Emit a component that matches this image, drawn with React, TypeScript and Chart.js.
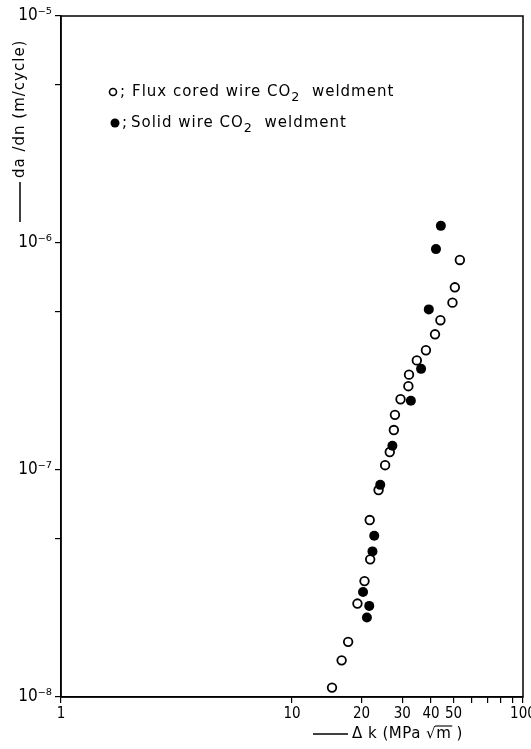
import React, { useEffect, useRef } from "react";
import { Chart, registerables } from "chart.js";

Chart.register(...registerables);

// ΔK (MPa√m) and da/dn (m/cycle)
const fluxDK = [53.3, 50.7, 49.5, 43.9, 41.6, 38.0, 34.7, 32.1, 31.9, 29.5, 27.9, 27.6, 26.5, 25.3, 23.7, 21.7, 21.8, 20.6, 19.2, 17.5, 16.4, 14.9];
const fluxRate = [8.42e-7, 6.38e-7, 5.46e-7, 4.57e-7, 3.96e-7, 3.37e-7, 3.04e-7, 2.63e-7, 2.34e-7, 2.05e-7, 1.75e-7, 1.5e-7, 1.2e-7, 1.05e-7, 8.16e-8, 6.02e-8, 4.04e-8, 3.24e-8, 2.58e-8, 1.75e-8, 1.45e-8, 1.1e-8];
const solidDK = [44.1, 42.0, 39.1, 36.2, 32.7, 27.2, 24.1, 22.7, 22.3, 20.3, 21.6, 21.1];
const solidRate = [1.19e-6, 9.4e-7, 5.1e-7, 2.79e-7, 2.02e-7, 1.28e-7, 8.6e-8, 5.13e-8, 4.38e-8, 2.9e-8, 2.52e-8, 2.24e-8];

const xTickValues = [1, 10, 20, 30, 40, 50, 60, 70, 80, 90, 100];
const xTickLabels = ["1", "10", "20", "30", "40", "50", "", "", "", "", "100"];
const yTickValues = [1e-8, 5e-8, 1e-7, 5e-7, 1e-6, 5e-6, 1e-5];
const yTickLabels = ["10⁻⁸", "", "10⁻⁷", "", "10⁻⁶", "", "10⁻⁵"];

const fluxLabel = ["Flux cored wire CO", "2", "  weldment"];
const solidLabel = ["Solid wire CO", "2", "  weldment"];
const yTitle = "da /dn (m/cycle)";
const xTitle = ["Δ k (MPa √", "m", " )"];

const FONT = "'DejaVu Sans Condensed', 'DejaVu Sans', sans-serif";
const FONT_W = "'DejaVu Sans', sans-serif";

function drawSubText(ctx: any, x: number, y: number, parts: string[], size: number) {
  let cx = x;
  parts.forEach((p, i) => {
    const sub = i % 2 === 1;
    ctx.font = `${sub ? size * 0.85 : size}px ${FONT_W}`;
    ctx.fillText(p, cx, sub ? y + size * 0.35 : y);
    cx += ctx.measureText(p).width;
  });
}

const overlay = {
  id: "overlay",
  afterDraw(chart: any) {
    const { ctx, chartArea: a } = chart;
    ctx.save();
    ctx.strokeStyle = "#000";
    ctx.fillStyle = "#000";
    ctx.lineWidth = 1.5;
    ctx.strokeRect(a.left, a.top, a.right - a.left, a.bottom - a.top);

    // legend
    const lx = a.left + 52;
    const y1 = 92;
    const y2 = 123;
    ctx.lineWidth = 1.6;
    ctx.beginPath();
    ctx.arc(lx, y1, 3.5, 0, Math.PI * 2);
    ctx.stroke();
    ctx.beginPath();
    ctx.arc(lx + 2, y2, 4.5, 0, Math.PI * 2);
    ctx.fill();
    ctx.textBaseline = "middle";
    ctx.textAlign = "left";
    ctx.font = `15px ${FONT_W}`;
    ctx.fillText(";", lx + 7, y1);
    ctx.fillText(";", lx + 9, y2);
    ctx.letterSpacing = "1px";
    drawSubText(ctx, lx + 19, y1, fluxLabel, 15);
    drawSubText(ctx, lx + 18, y2, solidLabel, 15);

    // y title
    ctx.save();
    ctx.translate(20, 132);
    ctx.rotate(-Math.PI / 2);
    ctx.lineWidth = 1.5;
    ctx.beginPath();
    ctx.moveTo(-90, 0);
    ctx.lineTo(-50, 0);
    ctx.stroke();
    ctx.letterSpacing = "1px";
    ctx.font = `15px ${FONT_W}`;
    ctx.fillText(yTitle, -46, 0);
    ctx.restore();

    // x title
    const ty = 734;
    ctx.lineWidth = 1.3;
    ctx.beginPath();
    ctx.moveTo(313, ty);
    ctx.lineTo(348, ty);
    ctx.stroke();
    ctx.letterSpacing = "0.5px";
    ctx.font = `15px ${FONT_W}`;
    const tx = 352;
    const w1 = ctx.measureText(xTitle[0]).width;
    const wm = ctx.measureText(xTitle[1]).width;
    ctx.fillText(xTitle.join(""), tx, ty);
    ctx.lineWidth = 1.1;
    ctx.beginPath();
    ctx.moveTo(tx + w1 - 1, ty - 8);
    ctx.lineTo(tx + w1 + wm + 1, ty - 8);
    ctx.stroke();
    ctx.restore();
  },
};

export default function App() {
  const ref = useRef<HTMLCanvasElement | null>(null);

  useEffect(() => {
    document.body.style.margin = "0";
    if (!ref.current) return;
    const chart = new Chart(ref.current, {
      type: "scatter",
      data: {
        datasets: [
          {
            label: "Solid wire CO2 weldment",
            data: solidDK.map((x, i) => ({ x, y: solidRate[i] })),
            pointStyle: "circle",
            pointRadius: 5,
            pointBackgroundColor: "#000",
            pointBorderColor: "#000",
            pointBorderWidth: 0,
          },
          {
            label: "Flux cored wire CO2 weldment",
            data: fluxDK.map((x, i) => ({ x, y: fluxRate[i] })),
            pointStyle: "circle",
            pointRadius: 4.3,
            pointBackgroundColor: "#fff",
            pointBorderColor: "#000",
            pointBorderWidth: 1.8,
          },
        ],
      },
      options: {
        animation: false,
        responsive: true,
        maintainAspectRatio: false,
        layout: { padding: { top: 16, right: 8, left: 0, bottom: 0 } },
        plugins: { legend: { display: false }, tooltip: { enabled: false }, title: { display: false } },
        scales: {
          x: {
            type: "logarithmic",
            min: 1,
            max: 100,
            afterBuildTicks: (s: any) => {
              s.ticks = xTickValues.map((v) => ({ value: v, major: true }));
            },
            afterFit: (s: any) => {
              s.height = 52;
              s.paddingLeft = 0;
              s.paddingRight = 0;
            },
            ticks: {
              autoSkip: false,
              maxRotation: 0,
              minRotation: 0,
              padding: 2,
              color: "#000",
              font: { family: FONT, size: 15 },
              callback: (v: any) => {
                const i = xTickValues.indexOf(Number(v));
                return i >= 0 ? xTickLabels[i] : "";
              },
            },
            grid: { drawOnChartArea: false, drawTicks: true, tickLength: 6, color: "#000", lineWidth: 1.2 },
            border: { display: true, color: "#000", width: 1.5 },
          },
          y: {
            type: "logarithmic",
            min: 1e-8,
            max: 1e-5,
            afterBuildTicks: (s: any) => {
              s.ticks = yTickValues.map((v) => ({ value: v, major: true }));
            },
            afterFit: (s: any) => {
              s.width = 61;
              s.paddingTop = 0;
              s.paddingBottom = 0;
            },
            ticks: {
              autoSkip: false,
              padding: 3,
              color: "#000",
              font: { family: FONT, size: 17 },
              callback: (v: any) => {
                const i = yTickValues.findIndex((t) => Math.abs(t - Number(v)) / t < 1e-6);
                return i >= 0 ? yTickLabels[i] : "";
              },
            },
            grid: { drawOnChartArea: false, drawTicks: true, tickLength: 6, color: "#000", lineWidth: 1.2 },
            border: { display: true, color: "#000", width: 1.5 },
          },
        },
      },
      plugins: [overlay],
    } as any);
    return () => chart.destroy();
  }, []);

  return (
    <div style={{ position: "relative", width: 531, height: 749 }}>
      <canvas ref={ref} />
    </div>
  );
}
